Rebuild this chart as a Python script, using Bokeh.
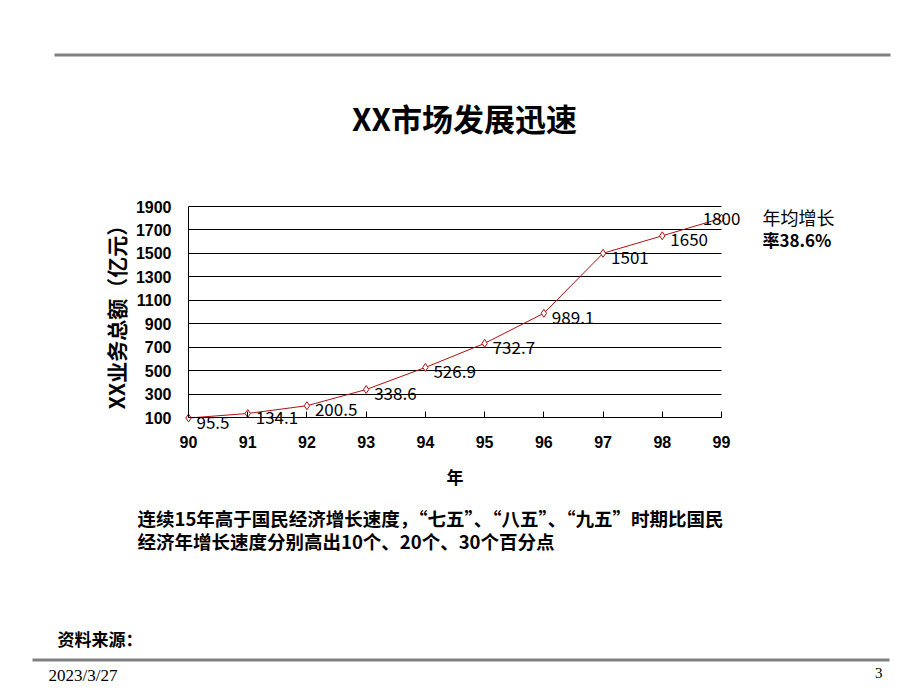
from bokeh.plotting import figure
from bokeh.models import (ColumnDataSource, Label, LabelSet, BoxAnnotation,
                          FixedTicker, LinearAxis, Grid, Range1d)
from bokeh.core.properties import value
from bokeh.embed import file_html
from bokeh.resources import INLINE

# ---- data ----
years = [90, 91, 92, 93, 94, 95, 96, 97, 98, 99]
values = [95.5, 134.1, 200.5, 338.6, 526.9, 732.7, 989.1, 1501, 1650, 1800]
y_ticks = [100, 300, 500, 700, 900, 1100, 1300, 1500, 1700, 1900]
x_ticks = [90, 91, 92, 93, 94, 95, 96, 97, 98, 99]

title_text = "XX市场发展迅速"
y_label = "XX业务总额（亿元）"
x_label = "年"
note_lines = ["年均增长", "率38.6%"]
body_lines = ["连续15年高于国民经济增长速度，“七五”、“八五”、“九五”时期比国民",
              "经济年增长速度分别高出10个、20个、30个百分点"]
source_text = "资料来源："
date_text = "2023/3/27"
page_text = "3"

CJK = "Noto Sans CJK SC"
RED = "#B01010"

# ---- layout (pixels on the canvas) ----
W, H = 912, 690
FX0, FX1 = 188, 721     # pixel x of first / last year
FY_TOP, FY_BOT = 206, 417  # pixel y of top / bottom of value axis

x_lo, x_hi = x_ticks[0], x_ticks[-1]
y_lo, y_hi = y_ticks[0], y_ticks[-1]
ppx = (FX1 - FX0) / (x_hi - x_lo)
x_start = x_lo - FX0 / ppx
x_end = x_start + W / ppx
ppy = (FY_BOT - FY_TOP) / (y_hi - y_lo)
y_end = y_hi + FY_TOP / ppy
y_start = y_end - H / ppy

p = figure(width=W, height=H, output_backend="svg", toolbar_location=None,
           x_range=Range1d(x_start, x_end), y_range=Range1d(y_start, y_end),
           x_axis_location=None, y_axis_location=None,
           min_border_left=0, min_border_right=0,
           min_border_top=0, min_border_bottom=0)
p.title.visible = False
p.outline_line_color = None
p.background_fill_color = "white"
p.border_fill_color = "white"
p.xgrid.visible = False
p.ygrid.visible = False

# axes, fixed at the chart's corner
xaxis = LinearAxis(ticker=FixedTicker(ticks=x_ticks), fixed_location=y_lo,
                   bounds=(x_lo, x_hi))
yaxis = LinearAxis(ticker=FixedTicker(ticks=y_ticks), fixed_location=x_lo,
                   bounds=(y_lo, y_hi))
for ax in (xaxis, yaxis):
    ax.minor_tick_line_color = None
    ax.axis_line_color = "black"
    ax.major_label_text_font = "Liberation Sans"
    ax.major_label_text_font_style = "bold"
    ax.major_label_text_font_size = "16px"
    ax.major_label_text_color = "black"
    ax.axis_label_text_font = CJK
    ax.axis_label_text_font_style = "bold"
    ax.axis_label_text_color = "black"
xaxis.major_tick_in = 6
xaxis.major_tick_out = 0
xaxis.major_tick_line_color = "black"
yaxis.major_tick_line_color = None
xaxis.major_label_standoff = 18
yaxis.major_label_standoff = 11
xaxis.axis_label = x_label
xaxis.axis_label_text_font_size = "17px"
xaxis.axis_label_standoff = 13
yaxis.axis_label = y_label
yaxis.axis_label_text_font_size = "21px"
yaxis.axis_label_standoff = 2
p.add_layout(xaxis, "below")
p.add_layout(yaxis, "left")

grid = Grid(dimension=1, ticker=FixedTicker(ticks=y_ticks),
            bounds=(y_lo, y_hi), cross_bounds=(x_lo, x_hi),
            grid_line_color="black", grid_line_width=1)
p.add_layout(grid)

# series
n = len(years)
src = ColumnDataSource(dict(
    x=years, y=values,
    label=[f"{v:g}" for v in values],
    align=["left"] * (n - 1) + ["center"],
    xoff=[8] * (n - 1) + [0],
    yoff=[-4] * (n - 1) + [0],
))
p.line("x", "y", source=src, line_color=RED, line_width=1)
p.scatter("x", "y", source=src, marker="diamond", size=8,
          line_color=RED, fill_color="white", line_width=1)
labels = LabelSet(x="x", y="y", text="label", source=src,
                  x_offset="xoff", y_offset="yoff",
                  text_align="align", text_baseline="middle",
                  text_font=value(CJK), text_font_size="17px",
                  text_color="black")
p.add_layout(labels)

# decorations in canvas units
def add_text(txt, x, y, size, align="left", style="bold", font=CJK):
    p.add_layout(Label(x=x, y=y, x_units="canvas", y_units="canvas",
                       text=txt, text_align=align, text_baseline="middle",
                       text_font=font, text_font_size=size,
                       text_font_style=style, text_color="black"))

add_text(title_text, 464, 117, "31px", align="center")
add_text(note_lines[0], 762, 216, "18px", style="normal")
add_text(note_lines[1], 762, 239, "17px")
add_text(body_lines[0], 137, 517, "18.5px")
add_text(body_lines[1], 137, 540, "18.5px")
add_text(source_text, 57, 638, "17px")
add_text(date_text, 48, 675, "17px", style="normal", font="Liberation Serif")
add_text(page_text, 882, 672, "15px", align="right", style="normal",
         font="Liberation Serif")

for (l, r, t, b) in [(54, 890, 53, 56), (32, 889, 658, 661)]:
    p.add_layout(BoxAnnotation(left=l, right=r, top=t, bottom=b,
                               left_units="canvas", right_units="canvas",
                               top_units="canvas", bottom_units="canvas",
                               fill_color="#808080", fill_alpha=1,
                               line_color=None))

open("out.html", "w").write(file_html(p, INLINE))
